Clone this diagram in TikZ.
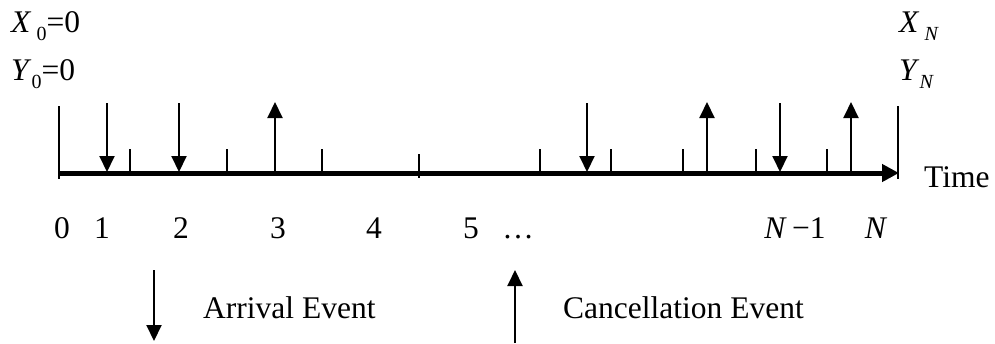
\documentclass[tikz,border=0pt]{standalone}
\usepackage{fontspec}
\setmainfont{Liberation Serif}
\usetikzlibrary{arrows.meta}
\newcommand{\subtxt}[1]{\raisebox{-8pt}{\fontsize{20}{20}\selectfont #1}}
\begin{document}
\begin{tikzpicture}[x=1pt,y=-1pt,
  txt/.style={inner sep=0pt,anchor=base,font=\fontsize{31.5}{36}\selectfont},
  thinline/.style={line width=2pt},
  axisline/.style={line width=5pt,-{Triangle[width=17pt,length=17pt]}},
  evt/.style={line width=2pt,-{Triangle[width=15pt,length=16pt]}}]
\useasboundingbox (0,0) rectangle (995,343);

% time axis
\coordinate (a0) at (59,173);
\coordinate (aN) at (899,173);
\draw[axisline] (a0) -- (aN);
\node[txt,anchor=base west] (time) at (924,187) {Time};

% end markers of the horizon
\coordinate (l0) at (59,106);
\coordinate (l1) at (59,179);
\coordinate (r0) at (898,106);
\coordinate (r1) at (898,179);
\draw[thinline] (l0) -- (l1);
\draw[thinline] (r0) -- (r1);

% period ticks
\foreach \x [count=\i] in {130,227,322,540,611,683,756,827}{
  \coordinate (t\i a) at (\x,149);
  \coordinate (t\i b) at (\x,173);
  \draw[thinline] (t\i a) -- (t\i b);
}
\coordinate (tm a) at (419,154);
\coordinate (tm b) at (419,178);
\draw[thinline] (tm a) -- (tm b);

% arrival events
\foreach \x [count=\i] in {107,179,587,780}{
  \coordinate (d\i a) at (\x,103);
  \coordinate (d\i b) at (\x,172);
  \draw[evt] (d\i a) -- (d\i b);
}
% cancellation events
\foreach \x [count=\i] in {275,707,851}{
  \coordinate (u\i a) at (\x,173);
  \coordinate (u\i b) at (\x,102);
  \draw[evt] (u\i a) -- (u\i b);
}

% period labels
\node[txt] (n0) at (62,238) {0};
\node[txt] (n1) at (102,238) {1};
\node[txt] (n2) at (181,238) {2};
\node[txt] (n3) at (278,238) {3};
\node[txt] (n4) at (374,238) {4};
\node[txt] (n5) at (471,238) {5};
\node[txt] (ndots) at (518,238) {\dots};
\node[txt] (nm1) at (795,238) {\textit{N}\,−1};
\node[txt] (nN) at (876,238) {\textit{N}};

% initial and final states
\node[txt,anchor=base west] (x0) at (11,32) {\textit{X}\,\subtxt{0}=0};
\node[txt,anchor=base west] (y0) at (11,80) {\textit{Y}\subtxt{0}=0};
\node[txt,anchor=base west] (xN) at (899,32) {\textit{X}\,\subtxt{\textit{N}}};
\node[txt,anchor=base west] (yN) at (899,80) {\textit{Y}\subtxt{\textit{N}}};

% legend
\coordinate (la a) at (154,270);
\coordinate (la b) at (154,341);
\draw[evt] (la a) -- (la b);
\node[txt,anchor=base west] (arr) at (203,318) {Arrival Event};
\coordinate (lc a) at (515,343);
\coordinate (lc b) at (515,270);
\draw[evt] (lc a) -- (lc b);
\node[txt,anchor=base west] (can) at (563,318) {Cancellation Event};
\end{tikzpicture}
\end{document}
